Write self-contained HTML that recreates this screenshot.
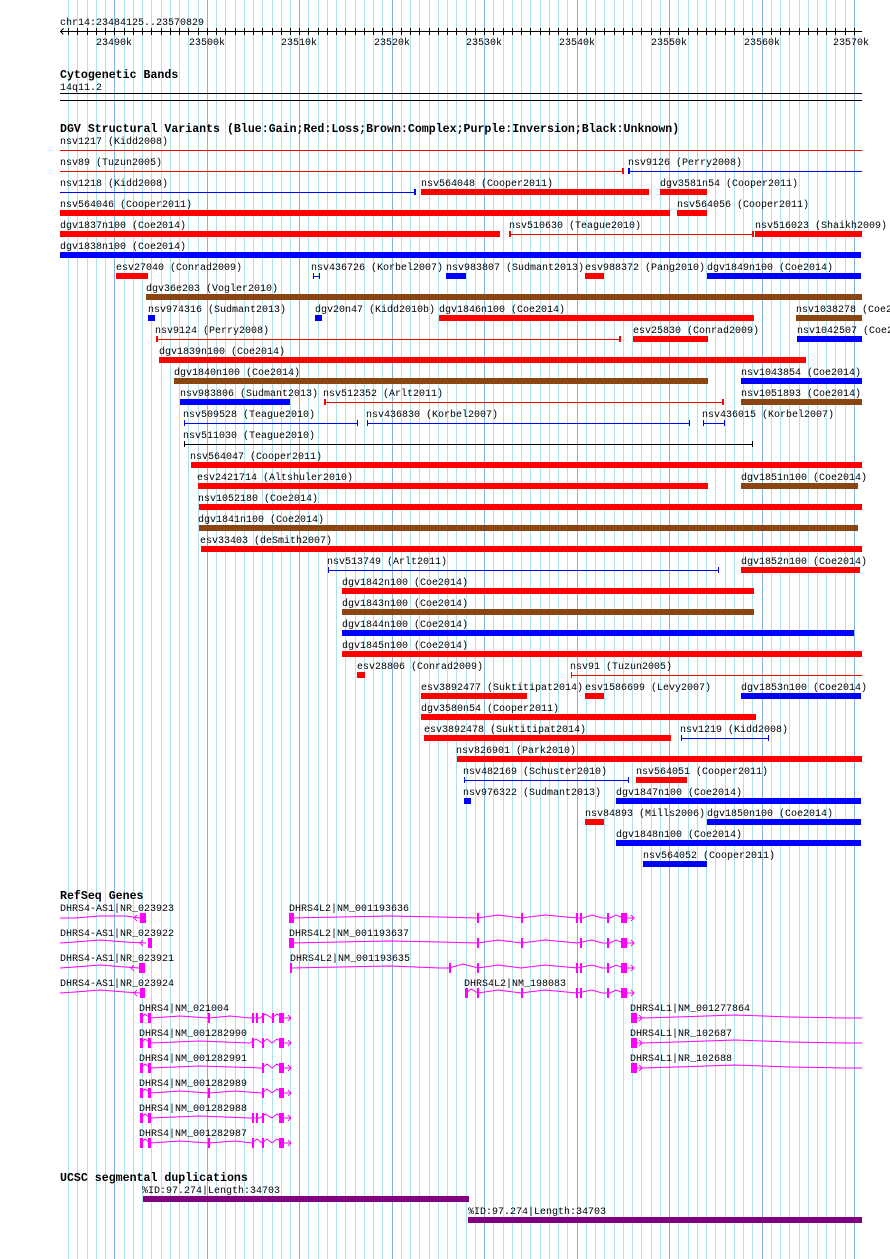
<!DOCTYPE html>
<html><head><meta charset="utf-8"><style>
html,body{margin:0;padding:0;background:#fff;width:890px;height:1259px;overflow:hidden}
svg{display:block}
text{font-family:"Liberation Mono",monospace;font-size:10px;fill:#000}
.b{font-weight:bold;font-size:11.6px}
.r{fill:#f00}.u{fill:#00f}.n{fill:#8b4513}.m{fill:#f0f}.p{fill:#800080}
.lr{stroke:#f00}.lu{stroke:#00f}.lk{stroke:#000}
.g{stroke:#f0f;fill:none}
</style></head><body>
<svg width="890" height="1259" viewBox="0 0 890 1259" shape-rendering="crispEdges">
<path stroke="#aee3ec" stroke-width="1" d="M68.5 0V1259M77.5 0V1259M87.5 0V1259M96.5 0V1259M105.5 0V1259M124.5 0V1259M133.5 0V1259M142.5 0V1259M151.5 0V1259M161.5 0V1259M170.5 0V1259M179.5 0V1259M188.5 0V1259M198.5 0V1259M216.5 0V1259M225.5 0V1259M235.5 0V1259M244.5 0V1259M253.5 0V1259M262.5 0V1259M272.5 0V1259M281.5 0V1259M290.5 0V1259M308.5 0V1259M318.5 0V1259M327.5 0V1259M336.5 0V1259M345.5 0V1259M355.5 0V1259M364.5 0V1259M373.5 0V1259M382.5 0V1259M401.5 0V1259M410.5 0V1259M419.5 0V1259M429.5 0V1259M438.5 0V1259M447.5 0V1259M456.5 0V1259M466.5 0V1259M475.5 0V1259M493.5 0V1259M503.5 0V1259M512.5 0V1259M521.5 0V1259M530.5 0V1259M540.5 0V1259M549.5 0V1259M558.5 0V1259M567.5 0V1259M586.5 0V1259M595.5 0V1259M604.5 0V1259M614.5 0V1259M623.5 0V1259M632.5 0V1259M641.5 0V1259M651.5 0V1259M660.5 0V1259M678.5 0V1259M688.5 0V1259M697.5 0V1259M706.5 0V1259M715.5 0V1259M725.5 0V1259M734.5 0V1259M743.5 0V1259M752.5 0V1259M771.5 0V1259M780.5 0V1259M789.5 0V1259M799.5 0V1259M808.5 0V1259M817.5 0V1259M826.5 0V1259M835.5 0V1259M845.5 0V1259"/>
<path stroke="#82b6e0" stroke-width="1" d="M114.5 0V1259M207.5 0V1259M299.5 0V1259M392.5 0V1259M484.5 0V1259M577.5 0V1259M669.5 0V1259M762.5 0V1259M854.5 0V1259"/>

<!-- ruler -->
<text x="60" y="25">chr14:23484125..23570829</text>
<path stroke="#000" d="M60 31.5H862M60.5 31.5l3 -3M60.5 31.5l3 3"/>
<path stroke="#000" d="M68.5 28V35M77.5 28V35M87.5 28V35M96.5 28V35M105.5 28V35M114.5 28V35M124.5 28V35M133.5 28V35M142.5 28V35M151.5 28V35M161.5 28V35M170.5 28V35M179.5 28V35M188.5 28V35M198.5 28V35M207.5 28V35M216.5 28V35M225.5 28V35M235.5 28V35M244.5 28V35M253.5 28V35M262.5 28V35M272.5 28V35M281.5 28V35M290.5 28V35M299.5 28V35M308.5 28V35M318.5 28V35M327.5 28V35M336.5 28V35M345.5 28V35M355.5 28V35M364.5 28V35M373.5 28V35M382.5 28V35M392.5 28V35M401.5 28V35M410.5 28V35M419.5 28V35M429.5 28V35M438.5 28V35M447.5 28V35M456.5 28V35M466.5 28V35M475.5 28V35M484.5 28V35M493.5 28V35M503.5 28V35M512.5 28V35M521.5 28V35M530.5 28V35M540.5 28V35M549.5 28V35M558.5 28V35M567.5 28V35M577.5 28V35M586.5 28V35M595.5 28V35M604.5 28V35M614.5 28V35M623.5 28V35M632.5 28V35M641.5 28V35M651.5 28V35M660.5 28V35M669.5 28V35M678.5 28V35M688.5 28V35M697.5 28V35M706.5 28V35M715.5 28V35M725.5 28V35M734.5 28V35M743.5 28V35M752.5 28V35M762.5 28V35M771.5 28V35M780.5 28V35M789.5 28V35M799.5 28V35M808.5 28V35M817.5 28V35M826.5 28V35M835.5 28V35M845.5 28V35M854.5 28V35"/>
<g text-anchor="middle">
<text x="114" y="45">23490k</text><text x="207" y="45">23500k</text><text x="299" y="45">23510k</text><text x="392" y="45">23520k</text><text x="484" y="45">23530k</text><text x="577" y="45">23540k</text><text x="669" y="45">23550k</text><text x="762" y="45">23560k</text><text x="851" y="45">23570k</text>
</g>

<!-- cytobands -->
<text class="b" x="60" y="78">Cytogenetic Bands</text>
<text x="60" y="90">14q11.2</text>
<rect x="60" y="93" width="802" height="1" fill="#000"/>
<rect x="60" y="100" width="802" height="1" fill="#000"/>

<!-- DGV -->
<text class="b" x="60" y="132">DGV Structural Variants (Blue:Gain;Red:Loss;Brown:Complex;Purple:Inversion;Black:Unknown)</text>

<!-- row0 150 -->
<text x="60" y="144">nsv1217 (Kidd2008)</text>
<rect class="r" x="60" y="150" width="802" height="1"/>
<!-- row1 171 -->
<text x="60" y="165">nsv89 (Tuzun2005)</text>
<rect class="r" x="60" y="171" width="563" height="1"/><rect class="r" x="622" y="168" width="2" height="6"/>
<text x="628" y="165">nsv9126 (Perry2008)</text>
<rect class="u" x="629" y="171" width="233" height="1"/><rect class="u" x="628" y="168" width="2" height="6"/>
<!-- row2 192 -->
<text x="60" y="186">nsv1218 (Kidd2008)</text>
<rect class="u" x="60" y="192" width="355" height="1"/><rect class="u" x="414" y="189" width="2" height="6"/>
<text x="421" y="186">nsv564048 (Cooper2011)</text>
<rect class="r" x="421" y="189" width="228" height="6"/>
<text x="660" y="186">dgv3581n54 (Cooper2011)</text>
<rect class="r" x="660" y="189" width="47" height="6"/>
<!-- row3 213 -->
<text x="60" y="207">nsv564046 (Cooper2011)</text>
<rect class="r" x="60" y="210" width="610" height="6"/>
<text x="677" y="207">nsv564056 (Cooper2011)</text>
<rect class="r" x="677" y="210" width="30" height="6"/>
<!-- row4 234 -->
<text x="60" y="228">dgv1837n100 (Coe2014)</text>
<rect class="r" x="60" y="231" width="440" height="6"/>
<text x="509" y="228">nsv510630 (Teague2010)</text>
<rect class="r" x="509" y="234" width="244" height="1"/><rect class="r" x="509" y="231" width="2" height="6"/><rect class="r" x="752" y="231" width="2" height="6"/>
<text x="755" y="228">nsv516023 (Shaikh2009)</text>
<rect class="r" x="755" y="231" width="107" height="6"/>
<!-- row5 255 -->
<text x="60" y="249">dgv1838n100 (Coe2014)</text>
<rect class="u" x="60" y="252" width="801" height="6"/>
<!-- row6 276 -->
<text x="116" y="270">esv27040 (Conrad2009)</text>
<rect class="r" x="116" y="273" width="32" height="6"/>
<text x="311" y="270">nsv436726 (Korbel2007)</text>
<rect class="u" x="313" y="276" width="7" height="1"/><rect class="u" x="313" y="273" width="1" height="6"/><rect class="u" x="319" y="273" width="1" height="6"/>
<text x="446" y="270">nsv983807 (Sudmant2013)</text>
<rect class="u" x="446" y="273" width="20" height="6"/>
<text x="585" y="270">esv988372 (Pang2010)</text>
<rect class="r" x="585" y="273" width="19" height="6"/>
<text x="707" y="270">dgv1849n100 (Coe2014)</text>
<rect class="u" x="707" y="273" width="154" height="6"/>
<!-- row7 297 -->
<text x="146" y="291">dgv36e203 (Vogler2010)</text>
<rect class="n" x="146" y="294" width="716" height="6"/>
<!-- row8 318 -->
<text x="148" y="312">nsv974316 (Sudmant2013)</text>
<rect class="u" x="148" y="315" width="7" height="6"/>
<text x="315" y="312">dgv20n47 (Kidd2010b)</text>
<rect class="u" x="315" y="315" width="7" height="6"/>
<text x="439" y="312">dgv1846n100 (Coe2014)</text>
<rect class="r" x="439" y="315" width="315" height="6"/>
<text x="796" y="312">nsv1038278 (Coe2014)</text>
<rect class="n" x="796" y="315" width="66" height="6"/>
<!-- row9 339 -->
<text x="155" y="333">nsv9124 (Perry2008)</text>
<rect class="r" x="157" y="339" width="463" height="1"/><rect class="r" x="156" y="336" width="2" height="6"/><rect class="r" x="619" y="336" width="2" height="6"/>
<text x="633" y="333">esv25830 (Conrad2009)</text>
<rect class="r" x="633" y="336" width="75" height="6"/>
<text x="797" y="333">nsv1042507 (Coe2014)</text>
<rect class="u" x="797" y="336" width="65" height="6"/>
<!-- row10 360 -->
<text x="159" y="354">dgv1839n100 (Coe2014)</text>
<rect class="r" x="159" y="357" width="647" height="6"/>
<!-- row11 381 -->
<text x="174" y="375">dgv1840n100 (Coe2014)</text>
<rect class="n" x="174" y="378" width="534" height="6"/>
<text x="741" y="375">nsv1043854 (Coe2014)</text>
<rect class="u" x="741" y="378" width="121" height="6"/>
<!-- row12 402 -->
<text x="180" y="396">nsv983806 (Sudmant2013)</text>
<rect class="u" x="180" y="399" width="110" height="6"/>
<text x="323" y="396">nsv512352 (Arlt2011)</text>
<rect class="r" x="325" y="402" width="398" height="1"/><rect class="r" x="324" y="399" width="2" height="6"/><rect class="r" x="722" y="399" width="2" height="6"/>
<text x="741" y="396">nsv1051893 (Coe2014)</text>
<rect class="n" x="741" y="399" width="121" height="6"/>
<!-- row13 423 -->
<text x="183" y="417">nsv509528 (Teague2010)</text>
<rect class="u" x="184" y="423" width="174" height="1"/><rect class="u" x="184" y="420" width="1" height="6"/><rect class="u" x="357" y="420" width="1" height="6"/>
<text x="366" y="417">nsv436830 (Korbel2007)</text>
<rect class="u" x="367" y="423" width="323" height="1"/><rect class="u" x="367" y="420" width="1" height="6"/><rect class="u" x="689" y="420" width="1" height="6"/>
<text x="702" y="417">nsv436015 (Korbel2007)</text>
<rect class="u" x="703" y="423" width="22" height="1"/><rect class="u" x="703" y="420" width="1" height="6"/><rect class="u" x="724" y="420" width="1" height="6"/>
<!-- row14 444 -->
<text x="183" y="438">nsv511030 (Teague2010)</text>
<rect fill="#000" x="184" y="444" width="569" height="1"/><rect fill="#000" x="184" y="441" width="1" height="6"/><rect fill="#000" x="752" y="441" width="1" height="6"/>
<!-- row15 465 -->
<text x="190" y="459">nsv564047 (Cooper2011)</text>
<rect class="r" x="191" y="462" width="671" height="6"/>
<!-- row16 486 -->
<text x="197" y="480">esv2421714 (Altshuler2010)</text>
<rect class="r" x="198" y="483" width="510" height="6"/>
<text x="741" y="480">dgv1851n100 (Coe2014)</text>
<rect class="n" x="741" y="483" width="117" height="6"/>
<!-- row17 507 -->
<text x="198" y="501">nsv1052180 (Coe2014)</text>
<rect class="r" x="199" y="504" width="663" height="6"/>
<!-- row18 528 -->
<text x="198" y="522">dgv1841n100 (Coe2014)</text>
<rect class="n" x="199" y="525" width="659" height="6"/>
<!-- row19 549 -->
<text x="200" y="543">esv33403 (deSmith2007)</text>
<rect class="r" x="201" y="546" width="661" height="6"/>
<!-- row20 570 -->
<text x="327" y="564">nsv513749 (Arlt2011)</text>
<rect class="u" x="328" y="570" width="391" height="1"/><rect class="u" x="328" y="567" width="1" height="6"/><rect class="u" x="718" y="567" width="1" height="6"/>
<text x="741" y="564">dgv1852n100 (Coe2014)</text>
<rect class="r" x="741" y="567" width="119" height="6"/>
<!-- row21-24 -->
<text x="342" y="585">dgv1842n100 (Coe2014)</text>
<rect class="r" x="342" y="588" width="412" height="6"/>
<text x="342" y="606">dgv1843n100 (Coe2014)</text>
<rect class="n" x="342" y="609" width="412" height="6"/>
<text x="342" y="627">dgv1844n100 (Coe2014)</text>
<rect class="u" x="342" y="630" width="512" height="6"/>
<text x="342" y="648">dgv1845n100 (Coe2014)</text>
<rect class="r" x="342" y="651" width="520" height="6"/>
<!-- row25 675 -->
<text x="357" y="669">esv28806 (Conrad2009)</text>
<rect class="r" x="357" y="672" width="8" height="6"/>
<text x="570" y="669">nsv91 (Tuzun2005)</text>
<rect class="r" x="571" y="675" width="291" height="1"/><rect class="r" x="571" y="672" width="1" height="6"/>
<!-- row26 696 -->
<text x="421" y="690">esv3892477 (Suktitipat2014)</text>
<rect class="r" x="421" y="693" width="106" height="6"/>
<text x="585" y="690">esv1586699 (Levy2007)</text>
<rect class="r" x="585" y="693" width="19" height="6"/>
<text x="741" y="690">dgv1853n100 (Coe2014)</text>
<rect class="u" x="741" y="693" width="120" height="6"/>
<!-- row27 717 -->
<text x="421" y="711">dgv3580n54 (Cooper2011)</text>
<rect class="r" x="421" y="714" width="335" height="6"/>
<!-- row28 738 -->
<text x="424" y="732">esv3892478 (Suktitipat2014)</text>
<rect class="r" x="424" y="735" width="247" height="6"/>
<text x="680" y="732">nsv1219 (Kidd2008)</text>
<rect class="u" x="681" y="738" width="88" height="1"/><rect class="u" x="681" y="735" width="1" height="6"/><rect class="u" x="768" y="735" width="1" height="6"/>
<!-- row29 759 -->
<text x="456" y="753">nsv826901 (Park2010)</text>
<rect class="r" x="457" y="756" width="405" height="6"/>
<!-- row30 780 -->
<text x="463" y="774">nsv482169 (Schuster2010)</text>
<rect class="u" x="464" y="780" width="165" height="1"/><rect class="u" x="464" y="777" width="1" height="6"/><rect class="u" x="628" y="777" width="1" height="6"/>
<text x="636" y="774">nsv564051 (Cooper2011)</text>
<rect class="r" x="636" y="777" width="51" height="6"/>
<!-- row31 801 -->
<text x="463" y="795">nsv976322 (Sudmant2013)</text>
<rect class="u" x="464" y="798" width="7" height="6"/>
<text x="616" y="795">dgv1847n100 (Coe2014)</text>
<rect class="u" x="616" y="798" width="245" height="6"/>
<!-- row32 822 -->
<text x="585" y="816">nsv84893 (Mills2006)</text>
<rect class="r" x="585" y="819" width="19" height="6"/>
<text x="707" y="816">dgv1850n100 (Coe2014)</text>
<rect class="u" x="707" y="819" width="154" height="6"/>
<!-- row33 843 -->
<text x="616" y="837">dgv1848n100 (Coe2014)</text>
<rect class="u" x="616" y="840" width="245" height="6"/>
<!-- row34 864 -->
<text x="643" y="858">nsv564052 (Cooper2011)</text>
<rect class="u" x="643" y="861" width="64" height="6"/>

<!-- RefSeq -->
<text class="b" x="60" y="899">RefSeq Genes</text>
<g shape-rendering="auto">
<!-- AS1 -->
<text x="60" y="911">DHRS4-AS1|NR_023923</text>
<polyline class="g" points="60,918 75,918 100,916 125,916 140,918"/><path class="g" d="M137 915l-3 3 3 3"/><rect class="m" x="140" y="913" width="6" height="10"/>
<text x="60" y="936">DHRS4-AS1|NR_023922</text>
<polyline class="g" points="60,943 75,942 100,940 125,942 146,943"/><path class="g" d="M143 940l-3 3 3 3"/><rect class="m" x="148" y="938" width="4" height="10"/>
<text x="60" y="961">DHRS4-AS1|NR_023921</text>
<polyline class="g" points="60,968 75,967 100,965 125,967 139,968"/><path class="g" d="M134 965l-3 3 3 3"/><rect class="m" x="139" y="963" width="6" height="10"/>
<text x="60" y="986">DHRS4-AS1|NR_023924</text>
<polyline class="g" points="60,993 75,992 100,990 125,992 140,993"/><path class="g" d="M137 990l-3 3 3 3"/><rect class="m" x="140" y="988" width="5" height="10"/>

<!-- DHRS4L2 -->
<text x="289" y="911">DHRS4L2|NM_001193636</text>
<polyline class="g" points="290,918 340,917 390,916 440,917 478,918 498,915 521,918 545,915 577,918 583,918 592,915 602,918 610,918 616,915 624,918 633,918"/>
<rect class="m" x="289" y="913" width="5" height="10"/><rect class="m" x="477" y="913" width="2" height="10"/><rect class="m" x="521" y="913" width="2" height="10"/><rect class="m" x="576" y="913" width="2" height="10"/><rect class="m" x="580" y="913" width="2" height="10"/><rect class="m" x="607" y="913" width="2" height="10"/><rect class="m" x="621" y="913" width="6" height="10"/><path class="g" d="M631 915l3 3-3 3"/>
<text x="289" y="936">DHRS4L2|NM_001193637</text>
<polyline class="g" points="290,943 340,942 390,941 440,942 478,943 498,940 521,943 545,940 577,943 592,940 602,943 610,943 616,940 624,943 633,943"/>
<rect class="m" x="289" y="938" width="5" height="10"/><rect class="m" x="477" y="938" width="2" height="10"/><rect class="m" x="521" y="938" width="2" height="10"/><rect class="m" x="580" y="938" width="2" height="10"/><rect class="m" x="607" y="938" width="2" height="10"/><rect class="m" x="621" y="938" width="6" height="10"/><path class="g" d="M631 940l3 3-3 3"/>
<text x="290" y="961">DHRS4L2|NM_001193635</text>
<polyline class="g" points="291,968 340,967 390,966 440,968 449,968 463,964 478,968 498,965 521,968 545,965 577,968 592,965 602,968 610,968 616,965 624,968 633,968"/>
<rect class="m" x="290" y="963" width="2" height="10"/><rect class="m" x="449" y="963" width="2" height="10"/><rect class="m" x="477" y="963" width="2" height="10"/><rect class="m" x="576" y="963" width="2" height="10"/><rect class="m" x="580" y="963" width="2" height="10"/><rect class="m" x="607" y="963" width="2" height="10"/><rect class="m" x="621" y="963" width="6" height="10"/><path class="g" d="M631 965l3 3-3 3"/>
<text x="464" y="986">DHRS4L2|NM_198083</text>
<polyline class="g" points="466,993 471,989 478,993 498,990 521,993 545,990 577,993 592,990 602,993 610,993 616,990 624,993 633,993"/>
<rect class="m" x="465" y="988" width="3" height="10"/><rect class="m" x="477" y="988" width="2" height="10"/><rect class="m" x="521" y="988" width="2" height="10"/><rect class="m" x="576" y="988" width="2" height="10"/><rect class="m" x="580" y="988" width="2" height="10"/><rect class="m" x="607" y="988" width="2" height="10"/><rect class="m" x="621" y="988" width="6" height="10"/><path class="g" d="M631 990l3 3-3 3"/>

<!-- DHRS4 -->
<text x="139" y="1011">DHRS4|NM_021004</text>
<polyline class="g" points="141,1018 145,1014 150,1018 180,1016 209,1018 230,1016 250,1018 256,1018 260,1018 265,1014 272,1018 277,1014 283,1018 290,1018"/>
<rect class="m" x="140" y="1013" width="3" height="10"/><rect class="m" x="148" y="1013" width="3" height="10"/><rect class="m" x="208" y="1013" width="2" height="10"/><rect class="m" x="252" y="1013" width="2" height="10"/><rect class="m" x="256" y="1013" width="2" height="10"/><rect class="m" x="262" y="1013" width="2" height="10"/><rect class="m" x="272" y="1013" width="2" height="10"/><rect class="m" x="279" y="1013" width="5" height="10"/><path class="g" d="M288 1015l3 3-3 3"/>
<text x="139" y="1036">DHRS4|NM_001282990</text>
<polyline class="g" points="141,1043 145,1039 150,1043 200,1041 250,1043 256,1039 262,1043 267,1039 272,1043 277,1039 283,1043 290,1043"/>
<rect class="m" x="140" y="1038" width="3" height="10"/><rect class="m" x="148" y="1038" width="3" height="10"/><rect class="m" x="252" y="1038" width="2" height="10"/><rect class="m" x="262" y="1038" width="2" height="10"/><rect class="m" x="279" y="1038" width="5" height="10"/><path class="g" d="M288 1040l3 3-3 3"/>
<text x="139" y="1061">DHRS4|NM_001282991</text>
<polyline class="g" points="141,1068 145,1064 150,1068 200,1066 262,1068 267,1064 272,1068 277,1064 283,1068 290,1068"/>
<rect class="m" x="140" y="1063" width="3" height="10"/><rect class="m" x="148" y="1063" width="3" height="10"/><rect class="m" x="262" y="1063" width="2" height="10"/><rect class="m" x="279" y="1063" width="5" height="10"/><path class="g" d="M288 1065l3 3-3 3"/>
<text x="139" y="1086">DHRS4|NM_001282989</text>
<polyline class="g" points="141,1093 145,1089 150,1093 180,1091 209,1093 235,1091 262,1093 267,1089 272,1093 277,1089 283,1093 290,1093"/>
<rect class="m" x="140" y="1088" width="3" height="10"/><rect class="m" x="148" y="1088" width="3" height="10"/><rect class="m" x="208" y="1088" width="2" height="10"/><rect class="m" x="262" y="1088" width="2" height="10"/><rect class="m" x="279" y="1088" width="5" height="10"/><path class="g" d="M288 1090l3 3-3 3"/>
<text x="139" y="1111">DHRS4|NM_001282988</text>
<polyline class="g" points="141,1118 145,1114 150,1118 200,1116 250,1118 256,1118 260,1118 265,1114 272,1118 277,1114 283,1118 290,1118"/>
<rect class="m" x="140" y="1113" width="3" height="10"/><rect class="m" x="148" y="1113" width="3" height="10"/><rect class="m" x="252" y="1113" width="2" height="10"/><rect class="m" x="256" y="1113" width="2" height="10"/><rect class="m" x="262" y="1113" width="2" height="10"/><rect class="m" x="279" y="1113" width="5" height="10"/><path class="g" d="M288 1115l3 3-3 3"/>
<text x="139" y="1136">DHRS4|NM_001282987</text>
<polyline class="g" points="141,1143 145,1139 150,1143 180,1141 209,1143 235,1141 252,1143 257,1139 262,1143 267,1139 272,1143 277,1139 283,1143 290,1143"/>
<rect class="m" x="140" y="1138" width="3" height="10"/><rect class="m" x="148" y="1138" width="3" height="10"/><rect class="m" x="208" y="1138" width="2" height="10"/><rect class="m" x="252" y="1138" width="2" height="10"/><rect class="m" x="262" y="1138" width="2" height="10"/><rect class="m" x="279" y="1138" width="5" height="10"/><path class="g" d="M288 1140l3 3-3 3"/>

<!-- DHRS4L1 -->
<text x="630" y="1011">DHRS4L1|NM_001277864</text>
<rect class="m" x="631" y="1013" width="6" height="10"/><path class="g" d="M637 1018H642M639 1015l3 3-3 3"/>
<polyline class="g" points="642,1018 677,1017 735,1015 763,1016 790,1017 847,1018 862,1018"/>
<text x="630" y="1036">DHRS4L1|NR_102687</text>
<rect class="m" x="631" y="1038" width="6" height="10"/><path class="g" d="M637 1043H642M639 1040l3 3-3 3"/>
<polyline class="g" points="642,1043 677,1042 735,1040 763,1041 790,1042 847,1043 862,1043"/>
<text x="630" y="1061">DHRS4L1|NR_102688</text>
<rect class="m" x="631" y="1063" width="6" height="10"/><path class="g" d="M637 1068H642M639 1065l3 3-3 3"/>
<polyline class="g" points="642,1068 677,1067 735,1065 763,1066 790,1067 847,1068 862,1068"/>
</g>

<!-- Segmental dups -->
<text class="b" x="60" y="1181">UCSC segmental duplications</text>
<text x="142" y="1193">%ID:97.274|Length:34703</text>
<rect class="p" x="143" y="1196" width="326" height="6"/>
<text x="468" y="1214">%ID:97.274|Length:34703</text>
<rect class="p" x="468" y="1217" width="394" height="6"/>
</svg>
</body></html>
